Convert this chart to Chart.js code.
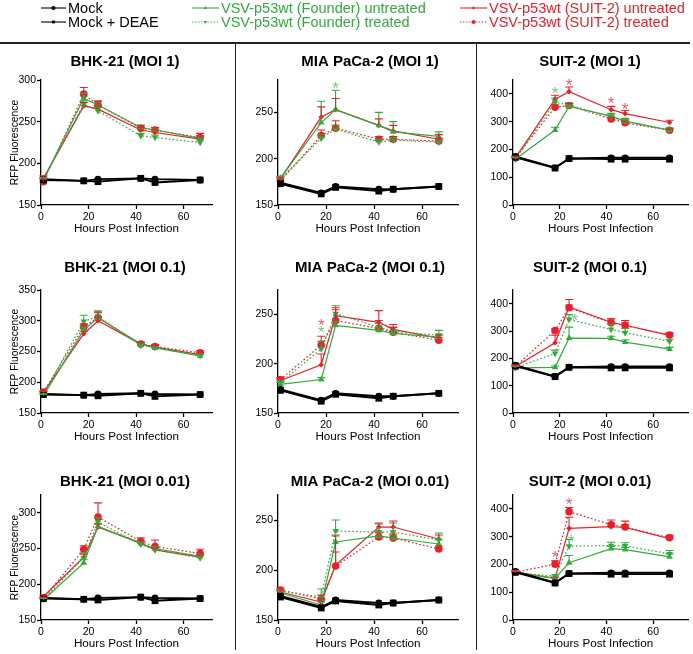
<!DOCTYPE html>
<html>
<head>
<meta charset="utf-8">
<script src="https://cdn.jsdelivr.net/npm/chart.js@4.4.1/dist/chart.umd.min.js"></script>
<style>
  body { margin: 0; background: #fff; font-family: "Liberation Sans", Arial, sans-serif; }
  #fig { position: relative; width: 693px; height: 654px; overflow: hidden; background: #fff; }
  #fig canvas { position: absolute; }
  .rule { position: absolute; background: #222; }
  .lg { position: absolute; font-size: 14.5px; line-height: 17px; white-space: nowrap; }
</style>
</head>
<body>
<div id="fig">
  <canvas id="legend" width="693" height="40" style="left:0;top:0"></canvas>
  <div class="rule" style="left:0;top:42px;width:690px;height:1.5px"></div>
  <div class="rule" style="left:234.5px;top:43px;width:1.5px;height:607px"></div>
  <div class="rule" style="left:475.5px;top:43px;width:1.5px;height:607px"></div>
</div>
<script>
// time points (hours post infection) shared by every panel
const hours = [1, 18, 24, 42, 48, 67];
const xTicks = [0, 20, 40, 60];

// panels, row by row: BHK-21 / MIA PaCa-2 / SUIT-2 at MOI 1, 0.1, 0.01
const panelTitles = [
  "BHK-21 (MOI 1)", "MIA PaCa-2 (MOI 1)", "SUIT-2 (MOI 1)",
  "BHK-21 (MOI 0.1)", "MIA PaCa-2 (MOI 0.1)", "SUIT-2 (MOI 0.1)",
  "BHK-21 (MOI 0.01)", "MIA PaCa-2 (MOI 0.01)", "SUIT-2 (MOI 0.01)",
];
const yMin = [150, 150, 0, 150, 150, 0, 150, 150, 0];
const yMax = [300, 285, 450, 350, 275, 450, 325, 275, 450];
const yTicks = [
  [150, 200, 250, 300], [150, 200, 250], [0, 100, 200, 300, 400],
  [150, 200, 250, 300, 350], [150, 200, 250], [0, 100, 200, 300, 400],
  [150, 200, 250, 300], [150, 200, 250], [0, 100, 200, 300, 400],
];

// series, one row per panel
const mock = [
  [181, 179, 181, 182, 181, 180], [174, 163, 170, 167, 167, 170], [175, 134, 168, 170, 170, 170],
  [181, 179, 181, 182, 181, 180], [174, 163, 170, 167, 167, 170], [175, 134, 168, 170, 170, 170],
  [181, 179, 181, 182, 181, 180], [174, 163, 170, 167, 167, 170], [175, 134, 168, 170, 170, 170],
];
const mockDeae = [
  [180, 179, 178, 182, 177, 180], [173, 162, 169, 165, 167, 170], [172, 133, 167, 165, 165, 165],
  [180, 179, 178, 182, 177, 180], [173, 162, 169, 165, 167, 170], [172, 133, 167, 165, 165, 165],
  [180, 179, 178, 182, 177, 180], [173, 162, 169, 165, 167, 170], [172, 133, 167, 165, 165, 165],
];
const founderUntreated = [
  [180, 278, 270, 243, 240, 230], [179, 239, 253, 236, 229, 224], [165, 270, 355, 320, 302, 270],
  [178, 285, 305, 262, 256, 243], [179, 184, 239, 234, 231, 227], [165, 167, 274, 273, 259, 234],
  [178, 230, 281, 257, 250, 239], [177, 165, 228, 234, 232, 226], [170, 150, 206, 257, 253, 227],
];
const founderUntreatedErr = [
  [2, 6, 4, 3, 3, 3], [2, 23, 21, 14, 11, 5], [5, 10, 10, 10, 10, 8],
  [2, 5, 8, 3, 3, 3], [2, 2, 4, 3, 3, 3], [5, 5, 40, 8, 8, 6],
  [2, 5, 4, 3, 3, 3], [2, 3, 7, 4, 3, 4], [5, 5, 26, 8, 8, 11],
];
const founderTreated = [
  [181, 271, 263, 233, 231, 225], [178, 222, 232, 218, 220, 218], [165, 370, 360, 317, 301, 269],
  [180, 299, 307, 260, 257, 243], [181, 215, 251, 237, 233, 229], [165, 218, 342, 306, 294, 262],
  [179, 237, 287, 256, 248, 237], [179, 173, 239, 238, 238, 230], [170, 158, 266, 268, 267, 238],
];
const founderTreatedErr = [
  [2, 4, 4, 3, 3, 3], [2, 4, 4, 3, 3, 3], [5, 15, 8, 8, 8, 6],
  [2, 10, 9, 3, 3, 3], [2, 8, 8, 4, 4, 5], [5, 12, 18, 19, 15, 8],
  [2, 7, 6, 4, 3, 3], [2, 8, 11, 8, 9, 7], [5, 5, 24, 12, 11, 12],
];
const suitUntreated = [
  [182, 269, 265, 240, 237, 229], [178, 245, 253, 236, 230, 221], [170, 381, 408, 343, 329, 297],
  [183, 279, 300, 262, 257, 245], [183, 199, 249, 242, 235, 226], [170, 257, 388, 332, 321, 284],
  [183, 238, 280, 258, 248, 238], [178, 168, 205, 243, 243, 231], [172, 150, 330, 336, 333, 293],
];
const suitUntreatedErr = [
  [3, 4, 4, 3, 3, 4], [2, 11, 12, 7, 6, 5], [5, 14, 17, 12, 11, 8],
  [2, 4, 6, 3, 3, 3], [2, 11, 8, 12, 5, 3], [5, 28, 27, 12, 17, 8],
  [2, 4, 4, 3, 3, 3], [2, 3, 13, 4, 6, 4], [5, 4, 40, 12, 10, 8],
];
const suitTreated = [
  [178, 283, 270, 242, 240, 231], [176, 225, 233, 221, 221, 219], [170, 352, 358, 310, 296, 269],
  [184, 290, 305, 262, 258, 248], [184, 219, 244, 236, 232, 224], [170, 302, 385, 330, 320, 285],
  [180, 249, 294, 260, 253, 243], [180, 171, 204, 233, 232, 221], [172, 201, 390, 343, 335, 296],
];
const suitTreatedErr = [
  [3, 8, 5, 3, 3, 5], [2, 6, 8, 3, 3, 3], [5, 8, 8, 6, 6, 5],
  [2, 5, 9, 3, 3, 3], [2, 9, 11, 8, 5, 3], [5, 6, 10, 15, 10, 8],
  [2, 5, 20, 5, 9, 6], [2, 4, 30, 4, 4, 3], [5, 12, 15, 17, 21, 9],
];
// significance asterisks: [hour, value, "g" | "r"]
const stars = [
  [], [[24, 281, "g"]], [[18, 418, "g"], [24, 447, "r"], [42, 380, "r"], [48, 360, "r"]],
  [], [[18, 243, "r"], [18, 236, "g"]], [[26.5, 354, "g"]],
  [], [], [[18, 242, "r"], [24, 433, "r"], [25, 300, "g"]],
];

const GREEN = "rgb(52,170,62)";
const RED = "rgb(232,32,44)";
const FONT = '"Liberation Sans", Arial, sans-serif';

// page geometry of the 3x3 grid
const colLeft = [0, 235, 476];
const colWidth = [235, 241, 217];
const plotLeft = [41, 278, 513];
const plotRight = [212, 458, 690];
const xMax = [72, 75, 75];
const plotTop = [80, 290, 495];
const plotBottom = [205, 413, 620];
const titleX = [125, 370, 590];
const titleY = [62, 268, 482];

Chart.defaults.font.family = FONT;
Chart.defaults.color = "#000";

const decor = {
  id: "decor",
  afterDatasetsDraw(chart) {
    const ctx = chart.ctx;
    const ys = chart.scales.y;
    chart.data.datasets.forEach((ds, i) => {
      if (!ds.errorBars) return;
      const meta = chart.getDatasetMeta(i);
      ctx.save();
      ctx.strokeStyle = ds.borderColor;
      ctx.lineWidth = 1.1;
      meta.data.forEach((pt, j) => {
        const top = ys.getPixelForValue(ds.data[j].y + ds.errorBars[j]);
        ctx.beginPath();
        ctx.moveTo(pt.x, pt.y);
        ctx.lineTo(pt.x, top);
        ctx.moveTo(pt.x - 4, top);
        ctx.lineTo(pt.x + 4, top);
        ctx.stroke();
      });
      ctx.restore();
    });
  },
  afterDraw(chart, args, opts) {
    const ctx = chart.ctx;
    ctx.save();
    ctx.fillStyle = "#000";
    ctx.font = "bold 15px " + FONT;
    ctx.textAlign = "center";
    ctx.textBaseline = "middle";
    ctx.fillText(opts.title, opts.tx, opts.ty);
    ctx.font = "17px " + FONT;
    ctx.textBaseline = "alphabetic";
    opts.stars.forEach(([h, v, c]) => {
      ctx.fillStyle = c === "g" ? "rgba(70,180,80,0.75)" : "rgba(225,45,60,0.8)";
      ctx.fillText("*", chart.scales.x.getPixelForValue(h), chart.scales.y.getPixelForValue(v) + 10);
    });
    ctx.restore();
  },
};

function series(label, values, color, style, radius, dashed, errs, rotation) {
  return {
    label,
    data: hours.map((h, i) => ({ x: h, y: values[i] })),
    borderColor: color,
    backgroundColor: color,
    borderWidth: color === "#000" ? 1.9 : 1.25,
    borderDash: dashed ? [1.6, 2.2] : [],
    pointStyle: style,
    pointRadius: radius,
    pointRotation: rotation || 0,
    pointBorderWidth: 0,
    tension: 0,
    clip: false,
    errorBars: errs,
  };
}

const fig = document.getElementById("fig");
for (let p = 0; p < 9; p++) {
  const row = Math.floor(p / 3), col = p % 3;
  const padTop = 42, axisH = 31, padBottom = 2;
  const top = plotTop[row] - padTop;
  const height = plotBottom[row] - plotTop[row] + padTop + axisH + padBottom;
  const padLeft = col === 0 ? 9 : 0;
  const yAxisW = plotLeft[col] - colLeft[col] - padLeft;

  const canvas = document.createElement("canvas");
  canvas.width = colWidth[col];
  canvas.height = height;
  canvas.style.left = colLeft[col] + "px";
  canvas.style.top = top + "px";
  fig.appendChild(canvas);

  const tickStyle = {
    display: true, drawOnChartArea: false, drawTicks: true,
    tickLength: 4, tickColor: "#000", tickWidth: 1.3,
  };

  new Chart(canvas, {
    type: "line",
    data: {
      datasets: [
        series("Mock", mock[p], "#000", "circle", 3.4, false),
        series("Mock + DEAE", mockDeae[p], "#000", "rect", 4.8, false),
        series("VSV-p53wt (Founder) untreated", founderUntreated[p], GREEN, "triangle", 3.8, false, founderUntreatedErr[p]),
        series("VSV-p53wt (Founder) treated", founderTreated[p], GREEN, "triangle", 3.8, true, founderTreatedErr[p], 180),
        series("VSV-p53wt (SUIT-2) untreated", suitUntreated[p], RED, "rectRot", 2.8, false, suitUntreatedErr[p]),
        series("VSV-p53wt (SUIT-2) treated", suitTreated[p], RED, "circle", 3.8, true, suitTreatedErr[p]),
      ],
    },
    options: {
      responsive: false,
      animation: false,
      devicePixelRatio: 1,
      layout: {
        padding: {
          top: padTop, bottom: padBottom, left: padLeft,
          right: colLeft[col] + colWidth[col] - plotRight[col],
        },
      },
      plugins: {
        legend: { display: false },
        tooltip: { enabled: false },
        decor: {
          title: panelTitles[p],
          tx: titleX[col] - colLeft[col],
          ty: titleY[row] - top,
          stars: stars[p],
        },
      },
      scales: {
        x: {
          type: "linear",
          min: 0,
          max: xMax[col],
          afterBuildTicks: (s) => { s.ticks = xTicks.map((v) => ({ value: v })); },
          afterFit: (s) => { s.height = axisH; },
          grid: tickStyle,
          border: { display: true, color: "#000", width: 1.3 },
          ticks: { font: { size: 10.5 }, padding: 2, maxRotation: 0 },
          title: {
            display: true, text: "Hours Post Infection",
            font: { size: 11.7 }, padding: 0,
          },
        },
        y: {
          type: "linear",
          min: yMin[p],
          max: yMax[p],
          afterBuildTicks: (s) => { s.ticks = yTicks[p].map((v) => ({ value: v })); },
          afterFit: (s) => { s.width = yAxisW; },
          grid: tickStyle,
          border: { display: true, color: "#000", width: 1.3 },
          ticks: { font: { size: 10.5 }, padding: 1 },
          title: {
            display: col === 0, text: "RFP Fluorescence",
            font: { size: 10.3 }, padding: 0,
          },
        },
      },
    },
    plugins: [decor],
  });
}

// legend across the top
const legendItems = [
  ["Mock", "#000", "circle", false, 41, 8],
  ["Mock + DEAE", "#000", "rect", false, 41, 22],
  ["VSV-p53wt (Founder) untreated", GREEN, "triangle", false, 192, 8],
  ["VSV-p53wt (Founder) treated", GREEN, "triangleDown", true, 192, 22],
  ["VSV-p53wt (SUIT-2) untreated", RED, "rectRot", false, 460, 8],
  ["VSV-p53wt (SUIT-2) treated", RED, "circle", true, 460, 22],
];
const lctx = document.getElementById("legend").getContext("2d");
legendItems.forEach(([text, color, style, dashed, x, y]) => {
  const w = x === 41 ? 25 : 27;
  lctx.save();
  lctx.strokeStyle = color;
  lctx.fillStyle = color;
  lctx.lineWidth = 1.1;
  lctx.setLineDash(dashed ? [1.3, 1.8] : []);
  lctx.beginPath();
  lctx.moveTo(x, y);
  lctx.lineTo(x + w, y);
  lctx.stroke();
  lctx.setLineDash([]);
  Chart.helpers.drawPoint(lctx, {
    pointStyle: style === "triangleDown" ? "triangle" : style,
    rotation: style === "triangleDown" ? 180 : 0,
    radius: style === "rectRot" ? 1.6 : 2,
    borderWidth: 0,
  }, x + w / 2, y);
  lctx.restore();
  const d = document.createElement("div");
  d.className = "lg";
  d.style.left = x + w + 2 + "px";
  d.style.top = y - 8.5 + "px";
  d.style.color = color;
  d.textContent = text;
  fig.appendChild(d);
});
</script>
</body>
</html>
